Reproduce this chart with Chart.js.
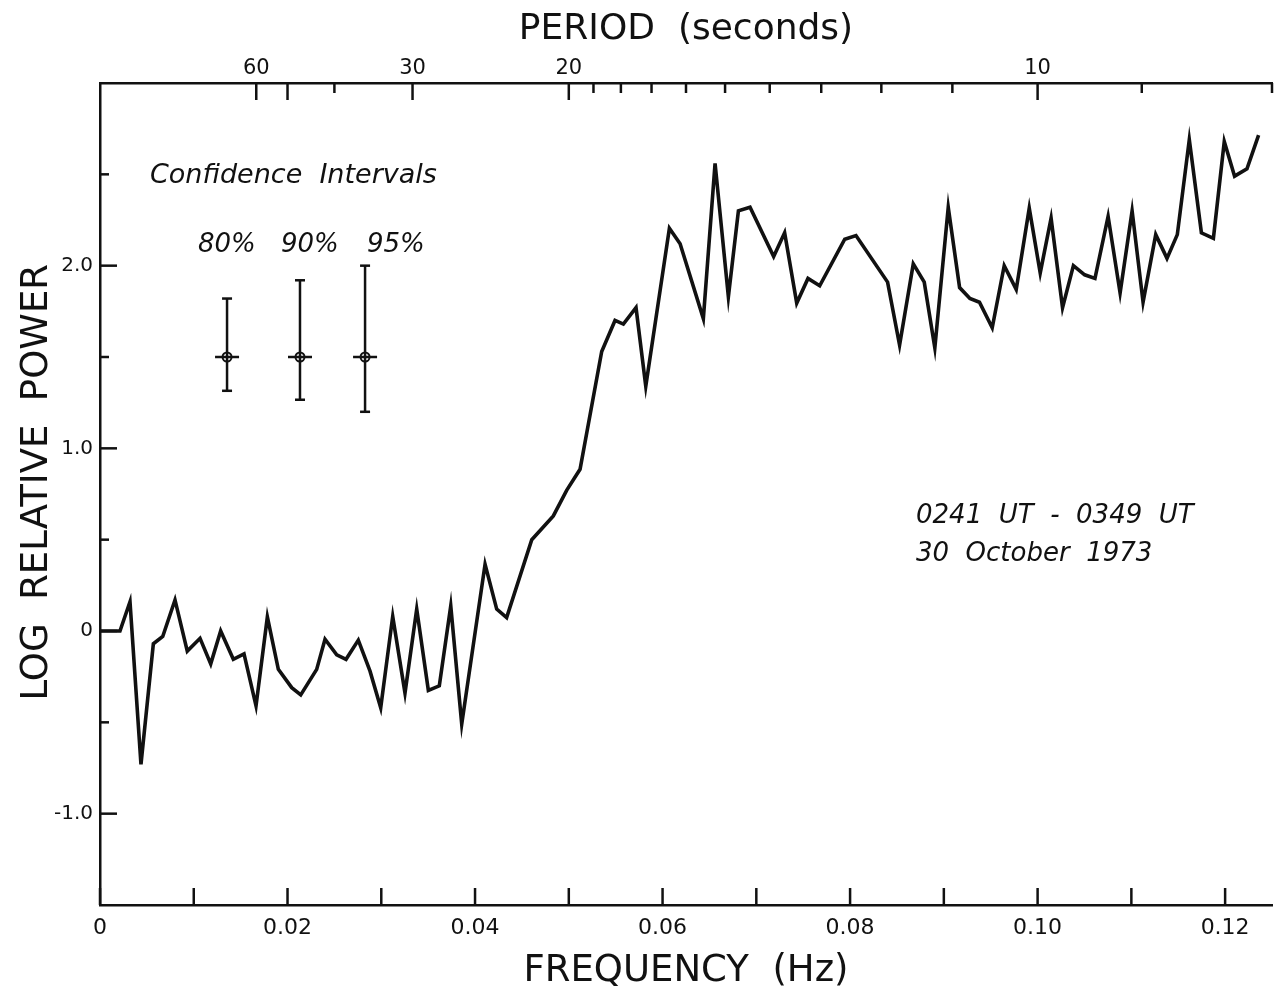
<!DOCTYPE html>
<html>
<head>
<meta charset="utf-8">
<script src="https://cdn.jsdelivr.net/npm/chart.js@4.4.1/dist/chart.umd.min.js"></script>
<style>
  html, body { margin: 0; padding: 0; background: #fff; }
  canvas { display: block; }
</style>
</head>
<body>
<canvas id="spectrum" width="1275" height="994"></canvas>
<script>
// Spectral estimates: frequency (Hz) and log relative power
const freqHz = [
  0, 0.00213, 0.0032, 0.00437, 0.00569, 0.00669, 0.0080, 0.00931, 0.01067, 0.01181,
  0.01287, 0.01422, 0.01536, 0.01664, 0.01785, 0.01902, 0.02045, 0.02141, 0.02311, 0.0240,
  0.02525, 0.02624, 0.02755, 0.0288, 0.02994, 0.03122, 0.03253, 0.03378, 0.03502, 0.03619,
  0.03741, 0.03858, 0.04107, 0.04231, 0.04337, 0.04605, 0.04835, 0.04977, 0.0512, 0.05351,
  0.05493, 0.05582, 0.05717, 0.05821, 0.06073, 0.06187, 0.06435, 0.0656, 0.06702, 0.06809,
  0.06933, 0.07185, 0.07302, 0.07431, 0.07551, 0.07676, 0.07943, 0.08063, 0.0840, 0.08528,
  0.08674, 0.08791, 0.08904, 0.09047, 0.09168, 0.09278, 0.0938, 0.09516, 0.09644, 0.09772,
  0.09911, 0.10028, 0.10144, 0.10266, 0.10382, 0.10502, 0.10612, 0.10752, 0.1088, 0.11008,
  0.11125, 0.1126, 0.1138, 0.1149, 0.11618, 0.11747, 0.11875, 0.11991, 0.12101, 0.12233,
  0.12357
];
const logPower = [
  0, 0, 0.16, -0.73, -0.07, -0.03, 0.17, -0.11, -0.04, -0.18,
  0.0, -0.155, -0.125, -0.41, 0.077, -0.21, -0.31, -0.35, -0.21, -0.045,
  -0.13, -0.155, -0.05, -0.22, -0.42, 0.08, -0.34, 0.12, -0.325, -0.30,
  0.137, -0.51, 0.365, 0.12, 0.073, 0.50, 0.63, 0.77, 0.885, 1.53,
  1.70, 1.68, 1.77, 1.34, 2.205, 2.12, 1.71, 2.56, 1.83, 2.30,
  2.32, 2.05, 2.18, 1.795, 1.93, 1.89, 2.145, 2.165, 1.91, 1.565,
  2.01, 1.91, 1.55, 2.32, 1.88, 1.82, 1.80, 1.66, 2.00, 1.87,
  2.315, 1.96, 2.26, 1.77, 2.00, 1.95, 1.93, 2.27, 1.85, 2.30,
  1.80, 2.17, 2.04, 2.17, 2.69, 2.18, 2.15, 2.68, 2.49, 2.53,
  2.715
];

// Confidence intervals
const ciLevels = ['80%', '90%', '95%'];
const ciFreq   = [0.01355, 0.02133, 0.02827];
const ciCenter = [1.5, 1.5, 1.5];
const ciLow    = [1.315, 1.266, 1.20];
const ciHigh   = [1.82, 1.92, 2.0];

// Axis ticks
const freqTickValues = [0, 0.01, 0.02, 0.03, 0.04, 0.05, 0.06, 0.07, 0.08, 0.09, 0.10, 0.11, 0.12];
const freqTickLabels = ['0', '', '0.02', '', '0.04', '', '0.06', '', '0.08', '', '0.10', '', '0.12'];
const periodTicks  = [60, 50, 40, 30, 20, 19, 18, 17, 16, 15, 14, 13, 12, 11, 10, 9, 8];
const periodLabels = [60, 30, 20, 10];
const periodLong   = [60, 50, 30, 20, 10];
const powerTickValues = [-1.0, -0.5, 0, 0.5, 1.0, 1.5, 2.0, 2.5];
const powerTickLabels = ['-1.0', '', '0', '', '1.0', '', '2.0', ''];

const INK = '#111';
const FAMILY = "'DejaVu Sans', 'Liberation Sans', sans-serif";

// Fixed axis band sizes, no extra label overhang padding
const fixBand = (prop, size) => s => {
  s[prop] = size;
  s.paddingLeft = 0; s.paddingRight = 0; s.paddingTop = 0; s.paddingBottom = 0;
};

// Tick marks drawn inward from each axis line
const inwardTicks = {
  id: 'inwardTicks',
  afterDraw(chart) {
    const { ctx, chartArea: a, scales } = chart;
    ctx.save();
    ctx.strokeStyle = INK;
    ctx.lineWidth = 2.5;
    ctx.lineCap = 'butt';
    const seg = (x1, y1, x2, y2) => { ctx.beginPath(); ctx.moveTo(x1, y1); ctx.lineTo(x2, y2); ctx.stroke(); };
    scales.x.ticks.forEach(t => {
      const px = scales.x.getPixelForValue(t.value);
      seg(px, a.bottom, px, a.bottom - 17);
    });
    scales.xTop.ticks.forEach((t, i) => {
      const px = scales.xTop.getPixelForValue(t.value);
      const len = periodLong.includes(periodTicks[i]) ? 17 : 10;
      seg(px, a.top, px, a.top + len);
    });
    scales.y.ticks.forEach((t, i) => {
      const py = scales.y.getPixelForValue(t.value);
      const len = powerTickLabels[i] !== '' ? 17 : 9;
      seg(a.left, py, a.left + len, py);
    });
    ctx.restore();
  }
};

// Text notes inside the plot
const notes = {
  id: 'notes',
  afterDraw(chart) {
    const { ctx } = chart;
    ctx.save();
    ctx.fillStyle = INK;
    ctx.textBaseline = 'alphabetic';
    ctx.textAlign = 'left';
    ctx.font = 'italic 27px ' + FAMILY;
    ctx.fillText('Confidence  Intervals', 150, 183);
    ctx.font = 'italic 26px ' + FAMILY;
    const labelX = [198, 281, 367];
    ciLevels.forEach((t, i) => ctx.fillText(t, labelX[i], 252));
    ctx.fillText('0241  UT  -  0349  UT', 916, 523);
    ctx.fillText('30  October  1973', 916, 561);
    ctx.restore();
  }
};

const errorBarSets = ciFreq.map((f, i) => ({
  data: [{ x: f, y: ciLow[i] }, { x: f, y: ciHigh[i] }],
  borderColor: INK,
  borderWidth: 2.5,
  pointStyle: 'line',
  pointRadius: 5,
  pointBorderWidth: 2.5,
  pointBorderColor: INK,
  showLine: true
}));

new Chart(document.getElementById('spectrum'), {
  type: 'line',
  data: {
    datasets: [
      {
        data: freqHz.map((f, i) => ({ x: f, y: logPower[i] })),
        borderColor: INK,
        borderWidth: 3.6,
        borderJoinStyle: 'miter',
        pointRadius: 0,
        tension: 0,
        fill: false
      },
      ...errorBarSets,
      {
        data: ciFreq.map((f, i) => ({ x: f, y: ciCenter[i] })),
        showLine: false,
        pointStyle: 'line',
        pointRadius: 12,
        pointBorderWidth: 2.5,
        pointBorderColor: INK
      },
      {
        data: ciFreq.map((f, i) => ({ x: f, y: ciCenter[i] })),
        showLine: false,
        pointStyle: 'circle',
        pointRadius: 4.5,
        pointBorderWidth: 2,
        pointBorderColor: INK,
        pointBackgroundColor: 'rgba(0,0,0,0)'
      }
    ]
  },
  options: {
    responsive: false,
    animation: false,
    devicePixelRatio: 1,
    layout: { autoPadding: false, padding: { left: 0, right: 3, top: 0, bottom: 0 } },
    plugins: { legend: { display: false }, tooltip: { enabled: false } },
    scales: {
      x: {
        type: 'linear',
        position: 'bottom',
        min: 0,
        max: 0.125,
        afterBuildTicks: s => { s.ticks = freqTickValues.map(v => ({ value: v })); },
        afterFit: fixBand('height', 89),
        ticks: {
          autoSkip: false, maxRotation: 0, padding: 10, color: INK,
          font: { family: FAMILY, size: 22 },
          callback: (v, i) => freqTickLabels[i]
        },
        grid: { display: false, drawTicks: false },
        border: { display: true, color: INK, width: 2.5 },
        title: {
          display: true, text: 'FREQUENCY  (Hz)', color: INK,
          font: { family: FAMILY, size: 37 }, padding: { top: 0, bottom: 0 }
        }
      },
      xTop: {
        type: 'linear',
        position: 'top',
        min: 0,
        max: 0.125,
        afterBuildTicks: s => { s.ticks = periodTicks.map(p => ({ value: 1 / p })); },
        afterFit: fixBand('height', 83),
        ticks: {
          autoSkip: false, maxRotation: 0, padding: 2, color: INK,
          font: { family: FAMILY, size: 21 },
          callback: (v, i) => periodLabels.includes(periodTicks[i]) ? String(periodTicks[i]) : ''
        },
        grid: { display: false, drawTicks: false },
        border: { display: true, color: INK, width: 2.5 },
        title: {
          display: true, text: 'PERIOD  (seconds)', color: INK,
          font: { family: FAMILY, size: 36 }, padding: { top: 8, bottom: 0 }
        }
      },
      y: {
        type: 'linear',
        position: 'left',
        min: -1.5,
        max: 3.0,
        afterBuildTicks: s => { s.ticks = powerTickValues.map(v => ({ value: v })); },
        afterFit: fixBand('width', 100),
        ticks: {
          autoSkip: false, padding: 7, color: INK,
          font: { family: FAMILY, size: 20 },
          callback: (v, i) => powerTickLabels[i]
        },
        grid: { display: false, drawTicks: false },
        border: { display: true, color: INK, width: 2.5 },
        title: {
          display: true, text: '  LOG  RELATIVE  POWER', color: INK,
          font: { family: FAMILY, size: 37 }, padding: { top: 15, bottom: 0 }
        }
      }
    }
  },
  plugins: [inwardTicks, notes]
});
</script>
</body>
</html>
